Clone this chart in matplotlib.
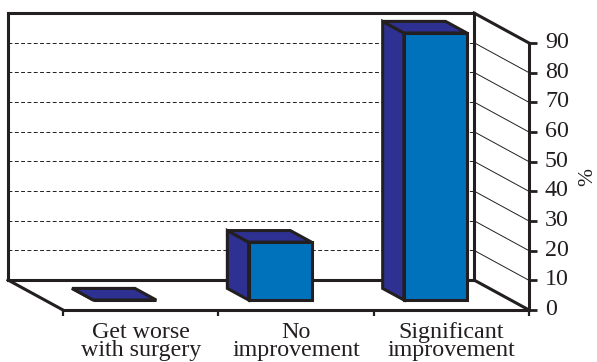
import matplotlib
matplotlib.use('Agg')
import matplotlib.pyplot as plt
from matplotlib.patches import Polygon

categories = [['Get worse', 'with surgery'], ['No', 'improvement'], ['Significant', 'improvement']]
values = [0, 19.5, 90]
tick_values = [0, 10, 20, 30, 40, 50, 60, 70, 80, 90]

side_color = '#2e3192'
front_color = '#0072bc'
line_color = '#231f20'

plt.rcParams['font.family'] = ['Liberation Serif', 'DejaVu Serif']

W, H = 597, 362
fig = plt.figure(figsize=(W / 100, H / 100), dpi=100, facecolor='white')
ax = fig.add_axes([0, 0, 1, 1])

# category 0..3 runs from px 63 to 529, value 0..90 from px 310 to 43
px_cat = (529 - 63) / 3
px_val = (310 - 43) / 90
ax.set_xlim(-63 / px_cat, (W - 63) / px_cat)
ax.set_ylim(-(H - 310) / px_val, 310 / px_val)
ax.axis('off')

# depth 1 is the back wall, 55px left and 30px up of the front plane
dx = -55 / px_cat
dy = 30 / px_val


def pt(cat, val, depth=0.0):
    return (cat + depth * dx, val + depth * dy)


def line(a, b, lw=2.2, **kw):
    ax.plot(*zip(a, b), color=line_color, lw=lw, solid_capstyle='projecting', **kw)


# dashed lines on the back wall and thin ones on the side wall
for v in tick_values[1:-1]:
    ax.plot(*zip(pt(0, v, 1), pt(3, v, 1)), color=line_color, lw=0.7, ls=(0, (4, 2.5)), zorder=1)
    ax.plot(*zip(pt(3, v, 1), pt(3, v, 0)), color=line_color, lw=0.7, zorder=1)

# walls and floor
line(pt(0, 0, 1), pt(0, 90, 1), zorder=2)
line(pt(0, 90, 1), pt(3, 90, 1), zorder=2)
line(pt(3, 0, 1), pt(3, 90, 1), zorder=2)
line(pt(0, 0, 1), pt(3, 0, 1), zorder=2)
line(pt(0, 0, 1), pt(0, 0, 0), zorder=2)
line(pt(3, 0, 1), pt(3, 0, 0), zorder=2)
line(pt(3, 90, 1), pt(3, 90, 0), zorder=2)
line(pt(0, 0, 0), pt(3, 0, 0), zorder=2)
line(pt(3, 0, 0), pt(3, 90, 0), zorder=2)

# 3d bars
bar_start = 0.313
bar_width = 0.405
d_front = 1 / 3
d_back = 0.72
for i, v in enumerate(values):
    x0 = i + bar_start
    x1 = x0 + bar_width
    top = [pt(x0, v, d_front), pt(x1, v, d_front), pt(x1, v, d_back), pt(x0, v, d_back)]
    left = [pt(x0, 0, d_front), pt(x0, v, d_front), pt(x0, v, d_back), pt(x0, 0, d_back)]
    front = [pt(x0, 0, d_front), pt(x1, 0, d_front), pt(x1, v, d_front), pt(x0, v, d_front)]
    for poly, c in [(left, side_color), (top, side_color), (front, front_color)]:
        ax.add_patch(Polygon(poly, closed=True, facecolor=c, edgecolor=line_color,
                             lw=2.2, joinstyle='miter', zorder=3))

# value axis
for v in tick_values:
    ax.plot([3, 3 + 8 / px_cat], [v, v], color=line_color, lw=2.0, solid_capstyle='butt', zorder=2)
    ax.text(3 + 16 / px_cat, v + 3 / px_val, str(v), ha='left', va='center_baseline', fontsize=17.3, color=line_color)
ax.text(3 + 59 / px_cat, 45, '%', rotation=90, ha='center', va='center', fontsize=15.5, color=line_color)

# category axis
for c in range(4):
    ax.plot([c, c], [0, -6 / px_val], color=line_color, lw=1.6, solid_capstyle='butt', zorder=2)
for i, lines in enumerate(categories):
    ax.text(i + 0.5, -28 / px_val, lines[0], ha='center', va='baseline', fontsize=17.3, color=line_color)
    ax.text(i + 0.5, -46 / px_val, lines[1], ha='center', va='baseline', fontsize=17.3, color=line_color)

fig.savefig('out.png', dpi=100)
